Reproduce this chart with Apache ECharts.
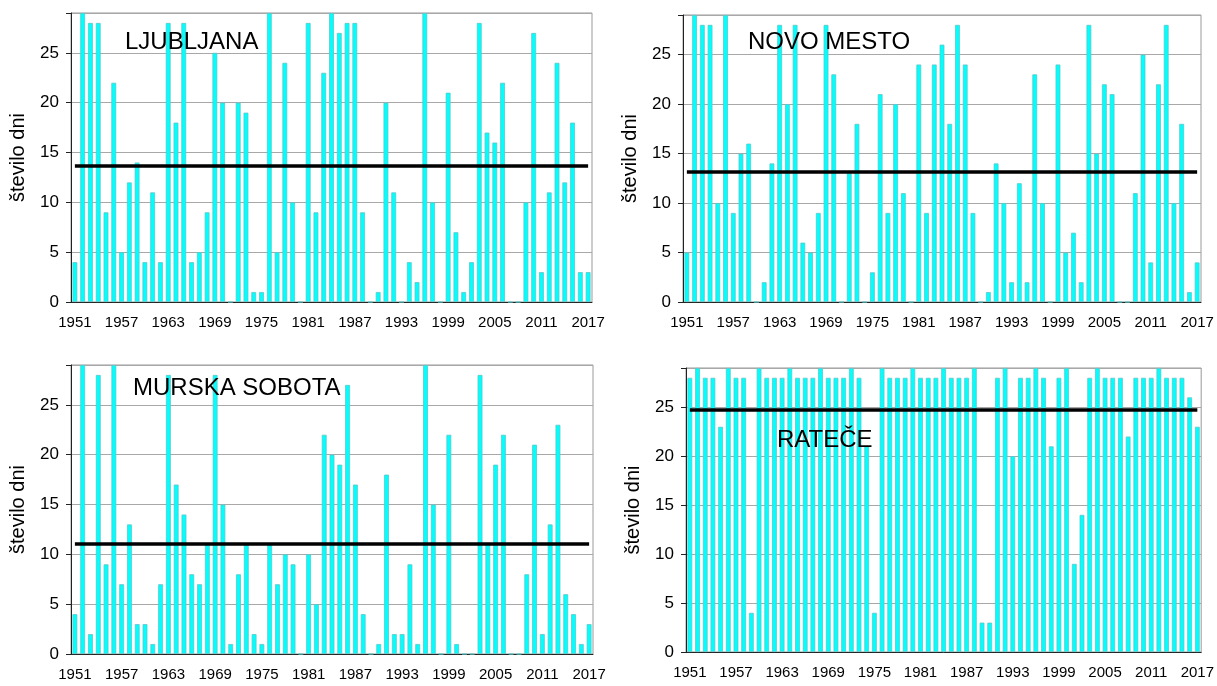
<!DOCTYPE html>
<html>
<head>
<meta charset="utf-8">
<title>Število dni s snežno odejo</title>
<script src="https://cdn.jsdelivr.net/npm/echarts@6.0.0/dist/echarts.min.js"></script>
<style>
    html, body { margin: 0; padding: 0; background: #fff; }
    #chart { width: 1217px; height: 686px; }
</style>
</head>
<body>
<div id="chart"></div>
<script>
// leta 1951-2017
const years = [];
for (let y = 1951; y <= 2017; y++) years.push(String(y));

const ljubljana = [4,29,28,28,9,22,5,12,14,4, 11,4,28,18,28,4,5,9,25,20,
    0,20,19,1,1,29,5,24,10,0, 28,9,23,29,27,28,28,9,0,1,
    20,11,0,4,2,29,10,0,21,7, 1,4,28,17,16,22,0,0,10,27,
    3,11,24,12,18,3,3];
const novoMesto = [5,29,28,28,10,29,9,15,16,0, 2,14,28,20,28,6,5,9,28,23,
    0,13,18,0,3,21,9,20,11,0, 24,9,24,26,18,28,24,9,0,1,
    14,10,2,12,2,23,10,0,24,5, 7,2,28,15,22,21,0,0,11,25,
    4,22,28,10,18,1,4];
const murskaSobota = [4,29,2,28,9,29,7,13,3,3, 1,7,28,17,14,8,7,11,28,15,
    1,8,11,2,1,11,7,10,9,0, 10,5,22,20,19,27,17,4,0,1,
    18,2,2,9,1,29,15,0,22,1, 0,0,28,11,19,22,0,0,8,21,
    2,13,23,6,4,1,3];
const ratece = [28,29,28,28,23,29,28,28,4,29, 28,28,28,29,28,28,28,29,28,28,
    28,29,28,21,4,29,28,28,28,29, 28,28,28,29,28,28,28,29,3,3,
    28,29,20,28,28,29,28,21,28,29, 9,14,28,29,28,28,28,22,28,28,
    28,29,28,28,28,26,23];

// povprečje 1981-2010 (črna črta)
const means = [13.7, 13.2, 11.1, 24.7];
const stations = ['LJUBLJANA', 'NOVO MESTO', 'MURSKA SOBOTA', 'RATEČE'];
const values = [ljubljana, novoMesto, murskaSobota, ratece];

const font = 'Liberation Sans, Arial, sans-serif';

const grids = [
    { left: 71, top: 13, width: 521, height: 289 },
    { left: 683, top: 15, width: 518, height: 287 },
    { left: 71, top: 365, width: 522, height: 289 },
    { left: 686, top: 368, width: 517, height: 284 }
];
const titlePos = [[125, 30], [748, 30], [133, 376], [777, 428]];

const chart = echarts.init(document.getElementById('chart'));

let option = {
    backgroundColor: '#fff',
    animation: false,
    title: [],
    grid: [],
    xAxis: [],
    yAxis: [],
    series: []
};

stations.forEach(function(name, i) {
    option.grid.push(Object.assign({
        show: true, borderColor: '#999', borderWidth: 1, containLabel: false
    }, grids[i]));

    option.title.push({
        text: name,
        left: titlePos[i][0],
        top: titlePos[i][1],
        padding: 0,
        textStyle: { fontFamily: font, fontSize: 24, fontWeight: 'normal', color: '#000' }
    });

    option.xAxis.push({
        type: 'category',
        gridIndex: i,
        data: years,
        boundaryGap: true,
        axisLine: { lineStyle: { color: '#222', width: 1 } },
        axisTick: { interval: 1, alignWithLabel: false, length: 5, lineStyle: { color: '#222' } },
        axisLabel: { interval: 5, margin: 13, fontFamily: font, fontSize: 15, color: '#000' },
        splitLine: { show: false }
    });

    option.yAxis.push({
        type: 'value',
        gridIndex: i,
        min: 0,
        max: 29,
        interval: 5,
        name: 'število dni',
        nameLocation: 'middle',
        nameGap: 43,
        nameTextStyle: { fontFamily: font, fontSize: 20, color: '#000' },
        axisLine: { show: true, lineStyle: { color: '#222', width: 1 } },
        axisTick: { show: true, length: 5, lineStyle: { color: '#222' } },
        axisLabel: {
            margin: 12, fontFamily: font, fontSize: 17, color: '#000',
            formatter: function(v) { return v % 5 === 0 ? v : ''; }
        },
        splitLine: { lineStyle: { color: '#a8a8a8', width: 1 } }
    });

    option.series.push({
        type: 'bar',
        xAxisIndex: i,
        yAxisIndex: i,
        data: values[i],
        barWidth: '62%',
        itemStyle: { color: '#00ffff', borderColor: '#5cc8c8', borderWidth: 0.8 },
        markLine: {
            silent: true,
            symbol: 'none',
            label: { show: false },
            lineStyle: { color: '#000', width: 3.5, type: 'solid' },
            data: [[
                { coord: [years[0], means[i]] },
                { coord: [years[years.length - 1], means[i]] }
            ]]
        }
    });
});

option && chart.setOption(option);
</script>
</body>
</html>
